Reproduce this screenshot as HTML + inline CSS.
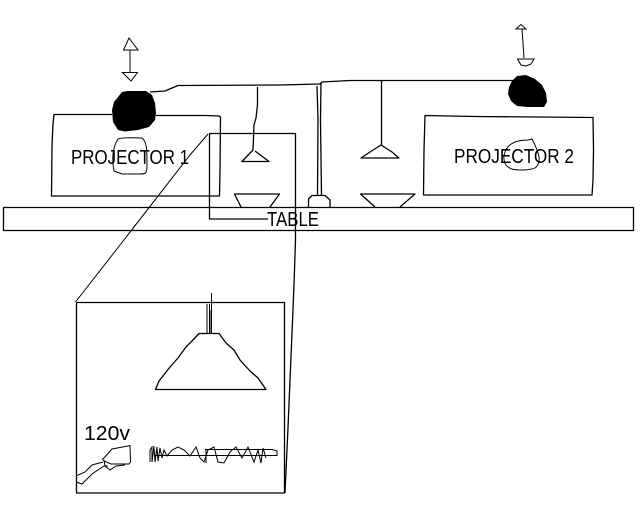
<!DOCTYPE html>
<html>
<head>
<meta charset="utf-8">
<style>
html,body{margin:0;padding:0;background:#fff;width:640px;height:512px;overflow:hidden}
svg{display:block}
text{font-family:"Liberation Sans",sans-serif;fill:#000}
.l{fill:none;stroke:#000;stroke-width:1.3;stroke-linejoin:round}
.t{fill:none;stroke:#000;stroke-width:1}
</style>
</head>
<body>
<svg width="640" height="512" viewBox="0 0 640 512" xmlns="http://www.w3.org/2000/svg">
<rect width="640" height="512" fill="#fff"/>
<!-- table -->
<rect class="l" x="3.5" y="207.5" width="630" height="23"/>
<!-- projector 1 -->
<path class="l" d="M112,114.5H54L53,124L52,146L51.5,196H219.5L220,170L220.5,117L219,116L205,115.5H156"/>
<path class="t" d="M118,139C122,137 136,138 142,138C147,142 147,150 147,165C147,174 146,174 139,174H122L114,171C112,160 112,148 118,139Z"/>
<text x="71" y="164" font-size="20" textLength="118" lengthAdjust="spacingAndGlyphs">PROJECTOR 1</text>
<!-- projector 2 -->
<path class="l" d="M425,115.5L475,116.5L593,117.5L593.5,150L593,180L592,195H423.5L424,150L425,115.5Z"/>
<path class="t" d="M507,148C512,141 522,140 528,140L532,139L535,145C537,150 540,156 539,162C537,168 535,169 525,170C515,170 510,170 506,165C503,160 503,155 507,148Z"/>
<text x="454" y="163" font-size="20" textLength="120" lengthAdjust="spacingAndGlyphs">PROJECTOR 2</text>
<!-- blobs -->
<path d="M122,92L128,91H146L152,95L155,103L156,113L155,120L149,127L138,130L125,131.5L118,130L113,122L112,110L114,102Z" fill="#000"/>
<path d="M517,76L526,75L535,79L542,85L546,93L547,102L544,107L528,107L517,106L511,101L508,94L509,87L512,81Z" fill="#000"/>
<!-- wires -->
<path class="l" d="M150,92L165,91L172,88L178,85.5L280,85L320,84L322,82L350,80.5H515"/>
<path class="l" d="M257.5,87L257.5,105L256,118L254,125L253,150"/>
<path class="l" d="M317,86L318,120L317.5,196"/>
<path class="l" d="M321,83L320.5,120L321.5,196"/>
<path class="l" d="M308.5,207V199L312,195.5H325L330,200V207"/>
<path class="l" d="M381.5,80V145"/>
<!-- lamp 1 -->
<path class="l" d="M253,150L242,161.5H269L255,151"/>
<!-- bowl 1 -->
<path class="l" d="M241,207L234.5,194H279.5L270,207"/>
<!-- lamp 2 -->
<path class="l" d="M381,145L370,152L361,158H399L392,152Z"/>
<!-- bowl 2 -->
<path class="l" d="M375,207L360.5,194H415L400,207"/>
<!-- detail box outlines -->
<path class="l" d="M209,133.5H295.5V240L294,285L288,428L285,493"/>
<path class="l" d="M209.5,133.5V219H268"/>
<path class="t" d="M208,134L190,155L120,245L75.5,302"/>
<rect class="l" x="76.5" y="302.5" width="208" height="190.5"/>
<text x="267" y="226" font-size="20" textLength="52" lengthAdjust="spacingAndGlyphs">TABLE</text>
<!-- arrow 1 -->
<path class="t" d="M129,38L123.5,50H138L129,38ZM130,50V72M122.5,72.5H137.5L131,81L122.5,72.5Z"/>
<!-- arrow 2 -->
<path class="t" d="M521,24.5L516,29H526L521,24.5ZM522,29L524,58M517.5,59H534L531,64L526,66L521,65L517.5,59Z"/>
<!-- detail lamp -->
<path class="t" d="M211.5,293V333M207,304V333"/>
<path d="M209,304h1v29h-1zM210.5,310h1.5v23h-1.5z" fill="#000"/>
<path class="l" d="M199,333.5H219L226,343L234,350L240,360L250,371L258,378L266,389.5H155.5L159,381L170,367L178,358L186,347L192,341L199,333.5Z"/>
<!-- detail plug -->
<text x="84" y="440" font-size="20" textLength="46" lengthAdjust="spacingAndGlyphs">120v</text>
<path class="t" d="M104,458L112,449L128,446L130,445.5L130.5,462L129,464H111L104,461L102.5,459ZM104,460L105,466L110,470L116,466L125,465M76,476L85,472L92,465L103,462M76,482L82,484L92,474L104,466L108,466"/>
<!-- detail spring -->
<path class="t" d="M155,455.5H277V451L272,449.5H205"/>
<path class="t" d="M150,462L150,450L152,447L152,462L154,446L155,462L157,447L158,461L160,448L162,458L164,450L167,456L172,450L178,447L184,450L190,456L196,447L200,458L204,462L208,450L214,447L218,462L224,463L230,452L236,447L242,458L248,447L254,462L258,450L261,463L263,448L266,458"/>
<path class="t" d="M206,450V463"/>
</svg>
</body>
</html>
